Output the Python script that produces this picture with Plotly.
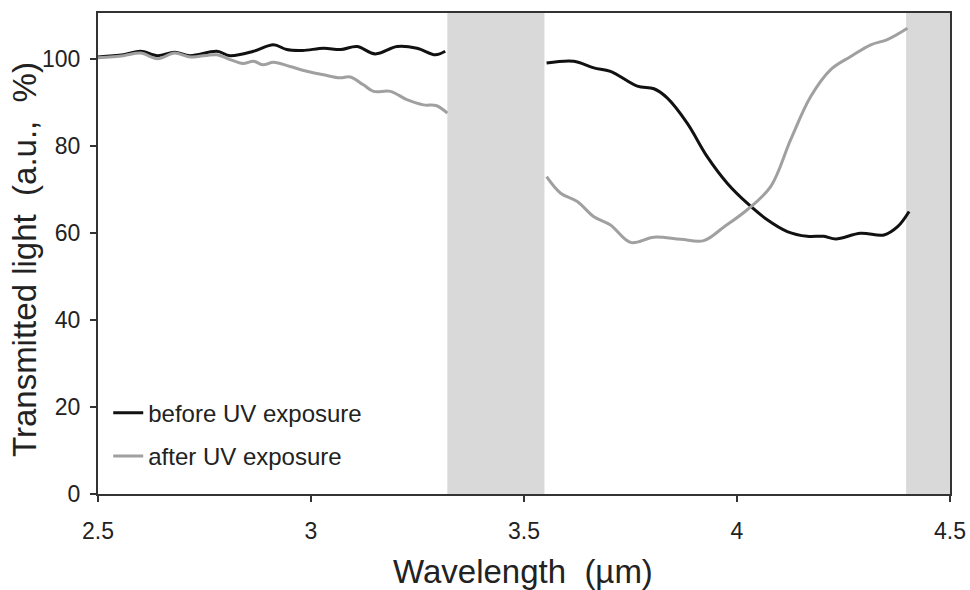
import plotly.graph_objects as go

# ---- data ----
before_x1 = [2.5, 2.56, 2.60, 2.64, 2.68, 2.716, 2.779, 2.81, 2.865, 2.912, 2.943, 2.98, 3.03, 3.07, 3.108, 3.151, 3.202, 3.249, 3.292, 3.315]
before_y1 = [100.4, 100.9, 101.7, 100.7, 101.5, 100.7, 101.7, 100.7, 101.7, 103.2, 102.1, 101.9, 102.4, 102.1, 102.8, 101.1, 102.8, 102.4, 100.9, 101.7]
before_x2 = [3.553, 3.617, 3.664, 3.703, 3.766, 3.805, 3.836, 3.883, 3.93, 3.977, 4.024, 4.071, 4.118, 4.165, 4.204, 4.232, 4.29, 4.345, 4.377, 4.404]
before_y2 = [99.0, 99.4, 97.9, 97.1, 93.7, 93.1, 91.0, 85.2, 77.5, 71.4, 66.8, 63.0, 60.3, 59.2, 59.2, 58.6, 59.9, 59.5, 61.4, 64.9]

after_x1 = [2.5, 2.56, 2.60, 2.64, 2.68, 2.716, 2.779, 2.81, 2.84, 2.865, 2.888, 2.912, 2.951, 2.99, 3.03, 3.068, 3.092, 3.123, 3.147, 3.186, 3.225, 3.264, 3.295, 3.32]
after_y1 = [100.2, 100.7, 101.3, 100.0, 101.3, 100.4, 100.9, 99.8, 98.9, 99.4, 98.6, 99.2, 98.2, 97.1, 96.3, 95.6, 95.8, 94.0, 92.5, 92.5, 90.6, 89.4, 89.2, 87.5]
after_x2 = [3.553, 3.586, 3.625, 3.664, 3.703, 3.75, 3.805, 3.868, 3.922, 3.97, 4.024, 4.079, 4.126, 4.173, 4.22, 4.267, 4.314, 4.353, 4.4]
after_y2 = [72.9, 69.1, 67.2, 63.7, 61.8, 57.8, 59.0, 58.5, 58.2, 61.4, 65.3, 70.6, 81.4, 91.3, 97.5, 100.5, 103.2, 104.4, 107.0]

band_ranges = [(3.32, 3.548), (4.397, 4.5)]
x_ticks = [2.5, 3, 3.5, 4, 4.5]
x_tick_labels = ["2.5", "3", "3.5", "4", "4.5"]
y_ticks = [0, 20, 40, 60, 80, 100]
series_names = ["before UV exposure", "after UV exposure"]
x_title = "Wavelength\u00a0\u00a0(µm)"
y_title = "Transmitted light\u00a0\u00a0(a.u.,\u00a0\u00a0%)"

before_x = before_x1 + [None] + before_x2
before_y = before_y1 + [None] + before_y2
after_x = after_x1 + [None] + after_x2
after_y = after_y1 + [None] + after_y2

FONT = "Liberation Sans, Arial, sans-serif"
TXT = "#222222"

fig = go.Figure()
fig.add_trace(go.Scatter(x=before_x, y=before_y, mode="lines", name=series_names[0],
                         legendgroup="a",
                         line=dict(color="#111111", width=3, shape="spline", smoothing=1.0),
                         connectgaps=False))
fig.add_trace(go.Scatter(x=after_x, y=after_y, mode="lines", name=series_names[1],
                         legendgroup="b",
                         line=dict(color="#a0a0a0", width=3, shape="spline", smoothing=1.0),
                         connectgaps=False))

for x0, x1 in band_ranges:
    fig.add_shape(type="rect", xref="x", yref="paper", x0=x0, x1=x1, y0=0, y1=1,
                  fillcolor="#d9d9d9", line=dict(width=0), layer="below")

fig.add_annotation(text=x_title, xref="paper", yref="paper", x=0.499, y=-0.161,
                   xanchor="center", yanchor="middle", showarrow=False,
                   font=dict(size=33, family=FONT, color=TXT))
fig.add_annotation(text=y_title, xref="paper", yref="paper", x=-0.086, y=0.488,
                   xanchor="center", yanchor="middle", showarrow=False, textangle=-90,
                   font=dict(size=33, family=FONT, color=TXT))

fig.update_layout(
    width=970, height=590,
    margin=dict(l=98, r=20, t=13, b=96),
    paper_bgcolor="white", plot_bgcolor="white",
    font=dict(family=FONT, color=TXT),
    showlegend=True,
    legend=dict(x=0.012, y=0.215, xanchor="left", yanchor="top",
                bgcolor="rgba(0,0,0,0)", font=dict(size=24, family=FONT, color=TXT),
                itemwidth=30, traceorder="grouped", tracegroupgap=9),
)
fig.update_xaxes(
    range=[2.5, 4.5], tickvals=x_ticks, ticktext=x_tick_labels, automargin=False,
    showline=True, linecolor="#333333", linewidth=2, mirror=True,
    ticks="outside", ticklen=6, tickcolor="#333333", tickwidth=1.5,
    showgrid=False, zeroline=False, ticklabelstandoff=9,
    tickfont=dict(size=23, family=FONT, color=TXT),
)
fig.update_yaxes(
    range=[0, 110.5], tickvals=y_ticks, automargin=False,
    showline=True, linecolor="#333333", linewidth=2, mirror=True,
    ticks="outside", ticklen=6, tickcolor="#333333", tickwidth=1.5,
    showgrid=False, zeroline=False, ticklabelstandoff=5,
    tickfont=dict(size=23, family=FONT, color=TXT),
)

# remove the browser's default 8px body margin so the figure fills the window exactly
fig.write_html("out.html",
               config={"displayModeBar": False},
               post_script="document.body.style.margin='0';document.body.style.overflow='hidden';")
